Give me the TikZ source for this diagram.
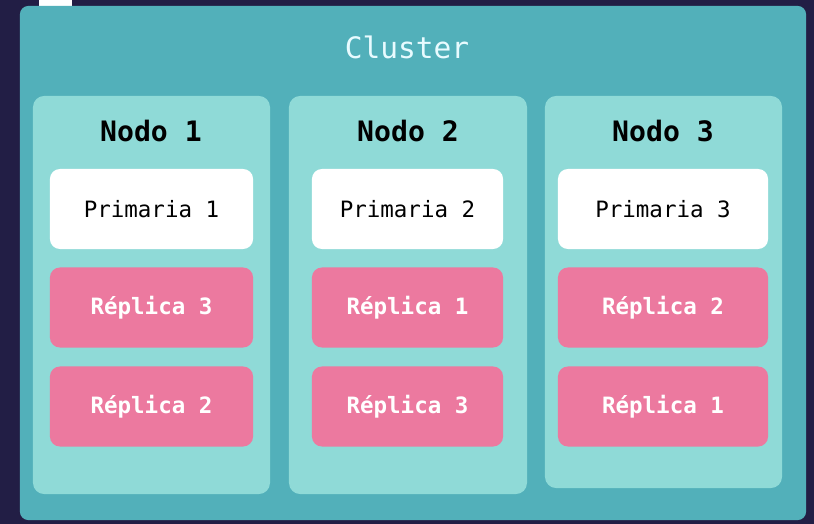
\documentclass[tikz,border=0pt]{standalone}
\usepackage{fontspec}
\setmonofont{DejaVu Sans Mono}
\usepackage{tikz}
\usetikzlibrary{positioning}
\definecolor{fondo}{HTML}{221E45}
\definecolor{clustercol}{HTML}{52B0BA}
\definecolor{nodocol}{HTML}{8FDAD7}
\definecolor{replicacol}{HTML}{EC799F}
\definecolor{textoclaro}{HTML}{E8FBFF}

\begin{document}
\begin{tikzpicture}[x=0.025cm,y=-0.025cm,font=\ttfamily,
  clusterbox/.style={fill=clustercol,rounded corners=6pt,minimum width=19.65cm,minimum height=12.85cm,inner sep=0pt},
  nodobox/.style={fill=nodocol,rounded corners=8pt,minimum width=5.925cm,minimum height=9.95cm,inner sep=0pt},
  primbox/.style={fill=white,rounded corners=7pt,minimum height=2cm,inner sep=0pt,font=\ttfamily\fontsize{16}{18}\selectfont},
  repbox/.style={fill=replicacol,rounded corners=7pt,minimum height=2cm,inner sep=0pt,text=white,font=\ttfamily\bfseries\fontsize{16}{18}\selectfont},
  titulo/.style={font=\ttfamily\bfseries\fontsize{20}{24}\selectfont}]
\useasboundingbox (0,0) rectangle (814,524);
\fill[fondo] (0,0) rectangle (814,524);
\fill[white] (39,0) rectangle (72,6);
\node[clusterbox] (cluster) at (413,263) {};
\node[text=textoclaro,font=\ttfamily\fontsize{21}{25}\selectfont] (clusterlbl) at (407,47) {Cluster};
% nodos
\node[nodobox] (nodoA) at (151.5,295) {};
\node[nodobox,minimum width=5.95cm] (nodoB) at (408,295) {};
\node[nodobox,minimum height=9.8cm] (nodoC) at (663.5,292) {};
\node[titulo] (tituloA) at (151,131) {Nodo 1};
\node[titulo] (tituloB) at (408,131) {Nodo 2};
\node[titulo] (tituloC) at (663,131) {Nodo 3};
% primarias
\node[primbox,minimum width=5.075cm] (primA) at (151.5,209) {Primaria 1};
\node[primbox,minimum width=4.775cm] (primB) at (407.5,209) {Primaria 2};
\node[primbox,minimum width=5.25cm] (primC) at (663,209) {Primaria 3};
% replicas
\node[repbox,minimum width=5.075cm] (repA1) at (151.5,307.5) {Réplica 3};
\node[repbox,minimum width=5.075cm] (repA2) at (151.5,406.5) {Réplica 2};
\node[repbox,minimum width=4.775cm] (repB1) at (407.5,307.5) {Réplica 1};
\node[repbox,minimum width=4.775cm] (repB2) at (407.5,406.5) {Réplica 3};
\node[repbox,minimum width=5.25cm] (repC1) at (663,307.5) {Réplica 2};
\node[repbox,minimum width=5.25cm] (repC2) at (663,406.5) {Réplica 1};
\end{tikzpicture}
\end{document}
